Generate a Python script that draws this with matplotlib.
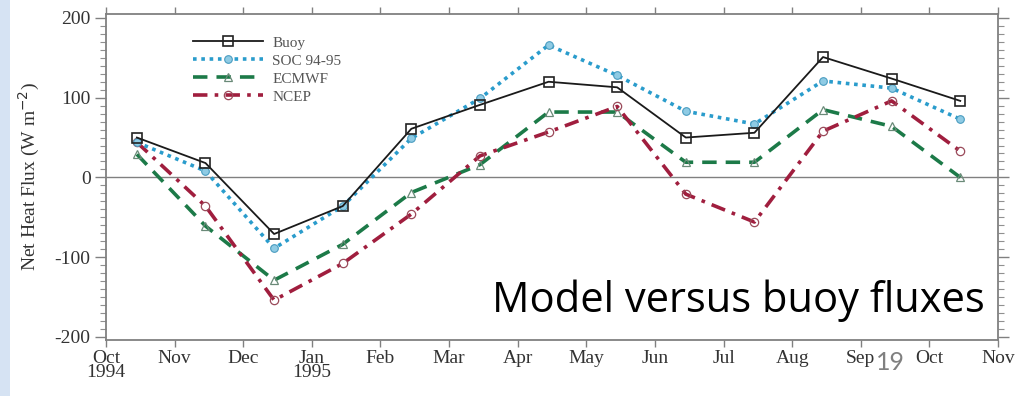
import numpy as np
import matplotlib
matplotlib.use("Agg")
import matplotlib.pyplot as plt
from matplotlib.ticker import MultipleLocator, FixedLocator
from matplotlib.patches import Rectangle

months = ["Oct\n1994", "Nov", "Dec", "Jan\n1995", "Feb", "Mar", "Apr", "May",
          "Jun", "Jul", "Aug", "Sep", "Oct", "Nov"]
buoy = [50, 18, -71, -36, 61, 91, 120, 113, 50, 56, 151, 124, 96]
soc = [44, 8, -89, -36, 49, 99, 166, 128, 83, 67, 121, 112, 73]
ecmwf = [29, -61, -129, -84, -19, 16, 82, 82, 19, 19, 85, 64, 0]
ncep = [44, -36, -154, -108, -46, 27, 57, 89, -21, -56, 58, 96, 33]

W, H = 1030, 396
fig = plt.figure(figsize=(W / 100, H / 100), dpi=100)
fig.patch.set_facecolor("white")
fig.patches.append(Rectangle((0, 0), 10 / W, 1, transform=fig.transFigure,
                             facecolor="#d6e3f3", edgecolor="none", zorder=0))

ax = fig.add_axes([106 / W, 1 - 340 / H, (998 - 106) / W, (340 - 14) / H])
x = np.arange(len(buoy)) + 0.45

serif = "Liberation Serif"
ax.axhline(0, color="#808080", lw=1.0, zorder=1)

ax.plot(x, buoy, color="#1a1a1a", lw=1.3, marker="s", ms=6.5,
        mfc="none", mec="#222222", mew=1.2, label="Buoy", zorder=5)
ax.plot(x, soc, color="#2a9ccc", lw=2.6, ls=(0, (1, 1.3)), marker="o", ms=5.5,
        mfc="#8fcbe4", mec="#4a9cc0", mew=0.8, label="SOC 94-95", zorder=4)
ax.plot(x, ecmwf, color="#1c7a48", lw=2.6, ls=(0, (4, 2.5)), marker="^", ms=6,
        mfc="none", mec="#6a8a78", mew=0.9, label="ECMWF", zorder=3)
ax.plot(x, ncep, color="#a01e3e", lw=2.6, ls=(0, (4, 2, 1, 2)), marker="o", ms=6,
        mfc="none", mec="#9a4a5a", mew=0.9, label="NCEP", zorder=3)

ax.set_xlim(0, 13)
ax.set_ylim(-204, 205)
ax.xaxis.set_major_locator(FixedLocator(np.arange(len(months))))
ax.set_xticklabels(months, fontfamily=serif, fontsize=14, color="#333333",
                   linespacing=0.8)
ax.yaxis.set_minor_locator(MultipleLocator(10))
ax.set_yticks([-200, -100, 0, 100, 200])
ax.set_yticklabels(["-200", "-100", "0", "100", "200"], fontfamily=serif,
                   fontsize=14, color="#333333")
ax.tick_params(axis="both", which="major", direction="out", length=8,
               width=1.0, color="#808080", top=True, right=True, pad=3)
ax.tick_params(axis="x", which="major", length=5, pad=2)
ax.tick_params(axis="y", which="minor", direction="out", length=4,
               width=0.8, color="#909090", left=True, right=True)
for s in ax.spines.values():
    s.set_color("#808080")
    s.set_linewidth(1.3)

ax.set_ylabel("Net Heat Flux (W m$^{-2}$)", fontfamily=serif, fontsize=14,
              color="#333333", labelpad=9)

leg = ax.legend(loc="upper left", bbox_to_anchor=(193 / W, 1 - 36 / H),
                bbox_transform=fig.transFigure, frameon=False,
                handlelength=4.6, labelspacing=0.28, handletextpad=0.6,
                borderpad=0, borderaxespad=0,
                prop={"family": serif, "size": 11})
for t in leg.get_texts():
    t.set_color("#555555")

fig.text(985 / W, 1 - 312 / H, "Model versus buoy fluxes", ha="right",
         va="baseline", fontfamily="Open Sans", fontsize=30, color="#000000")
fig.text(876 / W, 1 - 370 / H, "19", ha="left", va="baseline",
         fontfamily="Lato", fontsize=18, color="#808080")

fig.savefig("out.png", dpi=100, facecolor="white")
